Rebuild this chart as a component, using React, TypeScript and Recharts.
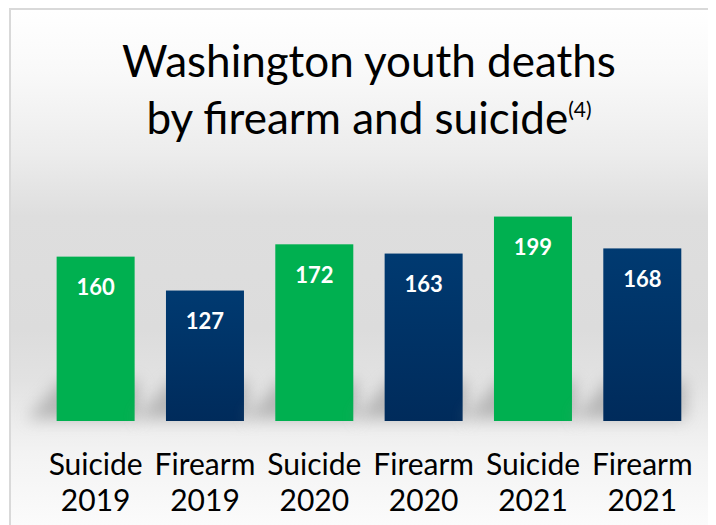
import React from "react";
import { BarChart, Bar, XAxis, YAxis, Cell, LabelList } from "recharts";

const categories = ["Suicide", "Firearm", "Suicide", "Firearm", "Suicide", "Firearm"];
const years = ["2019", "2019", "2020", "2020", "2021", "2021"];
const deaths = [160, 127, 172, 163, 199, 168];

const data = categories.map((c, i) => ({ name: `${c} ${years[i]}`, kind: c, year: years[i], value: deaths[i] }));

const FONT = "Lato, 'Open Sans', sans-serif";

const ShadowBar = (props: any) => {
    const { x, y, width, height, fill } = props;
    const bottom = y + height;
    return (
        <g>
            <path
                d={`M${x - 30},${bottom - 2} L${x + width + 4},${bottom - 2} L${x + width + 4},${bottom - 40} L${x + 4},${bottom - 40} Z`}
                fill="#8c8c8c"
                opacity={0.55}
                filter="url(#shadowBlur)"
            />
            <rect x={x} y={y} width={width} height={height} fill={fill} />
        </g>
    );
};

const TwoLineTick = (props: any) => {
    const { x, y, payload } = props;
    const d = data[payload.index] || data.find((r) => r.name === payload.value);
    return (
        <text x={x} y={y} textAnchor="middle" fontFamily={FONT} fontSize={30} fill="#000">
            <tspan x={x} dy={46}>{d ? d.kind : ""}</tspan>
            <tspan x={x} dy={36}>{d ? d.year : ""}</tspan>
        </text>
    );
};

export default function App() {
    return (
        <div
            style={{
                position: "relative",
                width: 708,
                height: 517,
                boxSizing: "border-box",
                borderLeft: "2px solid #d9d9d9",
                borderTop: "2px solid #d9d9d9",
                marginLeft: 1,
                background:
                    "linear-gradient(to bottom, #ffffff 0%, #f9f9f9 12%, #ececec 28%, #dedede 40%, #dcdcdc 62%, #e2e2e2 72%, #ececec 80%, #f3f3f3 86%, #fbfbfb 100%)",
                overflow: "hidden",
            }}
        >
            <div
                style={{
                    position: "absolute",
                    left: 0,
                    top: 22,
                    width: 716,
                    textAlign: "center",
                    fontFamily: FONT,
                    fontSize: 44,
                    lineHeight: "57px",
                    color: "#000",
                }}
            >
                Washington youth deaths
                <br />
                by firearm and suicide<sup style={{ fontSize: 21, verticalAlign: "top", lineHeight: "40px" }}>(4)</sup>
            </div>
            <div style={{ position: "absolute", left: -2, top: -2 }}>
                <BarChart
                    width={708}
                    height={517}
                    data={data}
                    margin={{ top: 187, right: 20, bottom: 14, left: 32 }}
                    barCategoryGap="14.3%"
                >
                    <defs>
                        <linearGradient id="navyGrad" x1="0" y1="0" x2="0" y2="1">
                            <stop offset="0%" stopColor="#003a71" />
                            <stop offset="100%" stopColor="#002b5b" />
                        </linearGradient>
                        <filter id="shadowBlur" x="-50%" y="-50%" width="200%" height="200%">
                            <feGaussianBlur stdDeviation="8" />
                        </filter>
                    </defs>
                    <XAxis dataKey="name" axisLine={false} tickLine={false} height={90} interval={0} tick={<TwoLineTick />} />
                    <YAxis hide domain={[0, 220]} />
                    <Bar dataKey="value" isAnimationActive={false} shape={<ShadowBar />}>
                        {data.map((d, i) => (
                            <Cell key={i} fill={d.kind === "Suicide" ? "#00b050" : "url(#navyGrad)"} />
                        ))}
                        <LabelList
                            dataKey="value"
                            position="insideTop"
                            offset={23}
                            fill="#ffffff"
                            fontFamily={FONT}
                            fontWeight="bold"
                            fontSize={22}
                        />
                    </Bar>
                </BarChart>
            </div>
        </div>
    );
}
